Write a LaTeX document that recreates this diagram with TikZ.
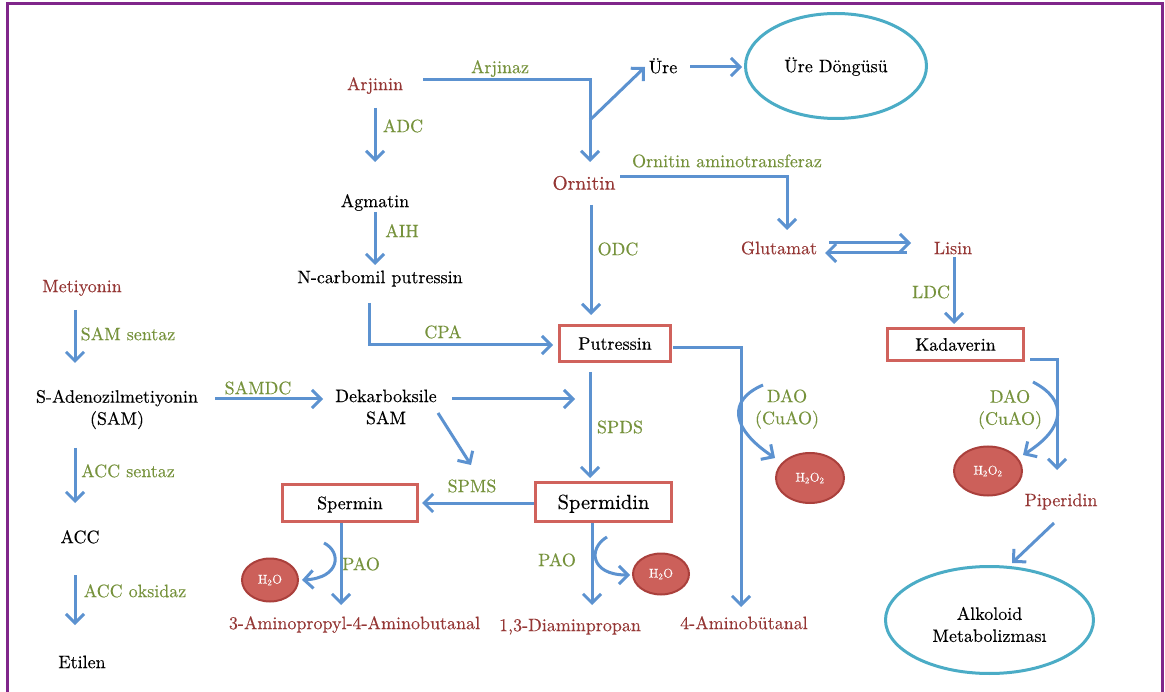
\documentclass[tikz,border=0pt]{standalone}
\usepackage{fontspec}
\setmainfont{lmroman10-regular.otf}[FakeBold=0.3]
\usetikzlibrary{arrows.meta,shapes.geometric}
\definecolor{molred}{RGB}{149,55,53}
\definecolor{enzgreen}{RGB}{118,146,60}
\definecolor{arrblue}{RGB}{92,146,208}
\definecolor{boxred}{RGB}{208,98,92}
\definecolor{cycblue}{RGB}{75,172,198}
\definecolor{dropfill}{RGB}{204,96,90}
\definecolor{dropedge}{RGB}{170,64,60}
\definecolor{framepurple}{RGB}{128,38,138}
\begin{document}
\begin{tikzpicture}[x=1pt,y=-1pt,
  base/.style={inner sep=0pt, outer sep=0pt, font=\fontsize{18}{22}\selectfont},
  txt/.style={base, text height=12.3pt, text depth=0pt},
  mol/.style={txt, text=molred},
  enz/.style={txt, text=enzgreen},
  multi/.style={base, align=center},
  stage/.style={txt, draw=boxred, line width=3pt, fill=white},
  cyc/.style={txt, ellipse, draw=cycblue, line width=3pt},
  drop/.style={ellipse, inner sep=0pt, outer sep=0pt, draw=dropedge, fill=dropfill,
    line width=2pt, text=white, font=\fontsize{12.5}{14}\selectfont},
  arr/.style={draw=arrblue, line width=3pt, -{Straight Barb[length=9pt,width=18pt]}}
]
\useasboundingbox (0,0) rectangle (1165,692);

% page frame (open at the bottom)
\draw[framepurple, line width=3pt] (7,700) -- (7,4) -- (1162,4) -- (1162,700);

% ---- arginine / ornithine branch ----
\node[mol] (arj) at (375,84) {Arjinin};
\node[enz] (arjinaz) at (500,67) {Arjinaz};
\node[txt] (ure) at (663,67) {Üre};
\node[cyc, minimum width=181pt, minimum height=105pt] (uredong) at (836,66) {Üre Döngüsü};
\node[mol, font=\fontsize{19.5}{22}\selectfont, text height=13.3pt] (orn) at (584,183) {Ornitin};
\node[enz] (ornat) at (727,161) {Ornitin aminotransferaz};
\node[enz] (adc) at (403,126) {ADC};
\node[txt] (agm) at (375,201) {Agmatin};
\node[enz] (aih) at (402,231) {AIH};
\node[txt] (ncp) at (380,277) {N-carbomil putressin};
\node[enz] (cpa) at (443,332) {CPA};
\node[enz] (odc) at (618,249) {ODC};
\node[stage, minimum width=111pt, minimum height=36pt] (put) at (615,343.5) {Putressin};
\node[mol] (glu) at (779,248) {Glutamat};
\node[mol] (lis) at (953,248) {Lisin};
\node[enz] (ldc) at (931,292) {LDC};
\node[stage, minimum width=136pt, minimum height=32pt] (kad) at (955.5,344.5) {Kadaverin};
\node[multi, text=enzgreen] (dao1) at (787,409) {DAO\\(CuAO)};
\node[drop, minimum width=68pt, minimum height=50pt] (h2o2a) at (810,478) {H\textsubscript{2}O\textsubscript{2}};
\node[multi, text=enzgreen] (dao2) at (1010,409.5) {DAO\\(CuAO)};
\node[drop, minimum width=68pt, minimum height=49pt] (h2o2b) at (988,471) {H\textsubscript{2}O\textsubscript{2}};
\node[mol] (pip) at (1061,500) {Piperidin};
\node[ellipse, draw=cycblue, line width=3pt, inner sep=0pt, outer sep=0pt,
  minimum width=208pt, minimum height=107pt] (alk) at (989.5,620) {};
\node[multi] (alktext) at (989.5,624.5) {Alkoloid\\Metabolizması};
\node[mol] (amb) at (744,623) {4-Aminobütanal};

% ---- methionine branch ----
\node[mol] (met) at (82,286) {Metiyonin};
\node[enz] (samsentaz) at (128,334) {SAM sentaz};
\node[multi] (sam) at (117,409.5) {S-Adenozilmetiyonin\\(SAM)};
\node[enz] (accsentaz) at (128,471) {ACC sentaz};
\node[txt] (acc) at (80,537) {ACC};
\node[enz] (accoks) at (135,591) {ACC oksidaz};
\node[txt] (etilen) at (82,662) {Etilen};
\node[enz] (samdc) at (258,388) {SAMDC};
\node[multi] (dek) at (386,407) {Dekarboksile\\SAM};

% ---- polyamines ----
\node[enz] (spds) at (620,427) {SPDS};
\node[stage, font=\fontsize{20.5}{24}\selectfont, text height=14pt,
  minimum width=136pt, minimum height=39pt] (spd) at (603.5,502) {Spermidin};
\node[stage, minimum width=135pt, minimum height=37pt] (spm) at (350,503) {Spermin};
\node[enz] (spms) at (472,486) {SPMS};
\node[enz] (pao1) at (361,564) {PAO};
\node[drop, minimum width=56pt, minimum height=43pt] (h2oa) at (270,580) {H\textsubscript{2}O};
\node[mol] (apa) at (354.5,623) {3-Aminopropyl-4-Aminobutanal};
\node[enz] (pao2) at (557,560) {PAO};
\node[drop, minimum width=56pt, minimum height=41pt] (h2ob) at (661,574) {H\textsubscript{2}O};
\node[mol] (dap) at (570,625) {1,3-Diaminpropan};

% ---- connectors ----
% arginase: Arjinin -> Ornitin, urea split off the bend
\draw[arr] ([shift={(48,-4)}]arj.center) -| ([shift={(6,-21)}]orn.center);
\coordinate (br) at ([shift={(6,-63)}]orn.center);
\draw[arr] (br) -- ([shift={(-18,0)}]ure.center);
\draw[arr] ([shift={(27,0)}]ure.center) -- ([shift={(-94,1)}]uredong.center);
% ADC, AIH, CPA route to putrescine
\draw[arr] ([shift={(0,24)}]arj.center) -- ([shift={(0,-39)}]agm.center);
\draw[arr] ([shift={(0,11)}]agm.center) -- ([shift={(-5,-12)}]ncp.center);
\draw[arr] ([shift={(-11,26)}]ncp.center) |- ([shift={(-62,1.5)}]put.center);
% ODC
\draw[arr] ([shift={(7,22)}]orn.center) -- ([shift={(-24,-28.5)}]put.center);
% ornithine aminotransferase
\draw[arr] ([shift={(36,-6)}]orn.center) -| ([shift={(8,-18)}]glu.center);
% glutamate <-> lysine
\draw[arr] ([shift={(50,-5)}]glu.center) -- ([shift={(-42,-5)}]lis.center);
\draw[arr] ([shift={(-46,5)}]lis.center) -- ([shift={(46,5)}]glu.center);
% LDC
\draw[arr] ([shift={(1,9)}]lis.center) -- ([shift={(-1.5,-20.5)}]kad.center);
% putrescine oxidation (DAO)
\draw[arr] ([shift={(58,4.5)}]put.center) -| ([shift={(-3,-16)}]amb.center);
\draw[arr] ([shift={(-47,-93)}]h2o2a.center) .. controls (728,400) and (730,428) .. ([shift={(-35,-20)}]h2o2a.center);
% cadaverine oxidation (DAO)
\draw[arr] ([shift={(74.5,15.5)}]kad.center) -| ([shift={(-4,-30)}]pip.center);
\draw[arr] ([shift={(45,-89)}]h2o2b.center) .. controls (1068,400) and (1066,428) .. ([shift={(35,-16)}]h2o2b.center);
\draw[arr] ([shift={(-7,23)}]pip.center) -- ([shift={(22.5,-57)}]alk.center);
% methionine -> SAM -> ACC -> ethylene
\draw[arr] ([shift={(-7,24)}]met.center) -- ([shift={(-42,-46.5)}]sam.center);
\draw[arr] ([shift={(-42,38.5)}]sam.center) -- ([shift={(-5,-34)}]acc.center);
\draw[arr] ([shift={(-5,38)}]acc.center) -- ([shift={(-7,-37)}]etilen.center);
% SAMDC and aminopropyl donation
\draw[arr] ([shift={(98,-10.5)}]sam.center) -- ([shift={(-63,-8)}]dek.center);
\draw[arr] ([shift={(66,-8)}]dek.center) -- ([shift={(-40,55.5)}]put.center);
\draw[arr] ([shift={(52,6)}]dek.center) -- ([shift={(-132.5,-37)}]spd.center);
% SPDS, SPMS
\draw[arr] ([shift={(-25,28.5)}]put.center) -- ([shift={(-13.5,-24)}]spd.center);
\draw[arr] ([shift={(-70,1)}]spd.center) -- ([shift={(72,0)}]spm.center);
% polyamine oxidase on spermine
\draw[arr] ([shift={(-9,20)}]spm.center) -- ([shift={(-13.5,-18)}]apa.center);
\draw[arr] ([shift={(-26,40)}]spm.center) .. controls (342,552) and (340,578) .. ([shift={(32,0)}]h2oa.center);
% polyamine oxidase on spermidine
\draw[arr] ([shift={(-11.5,21)}]spd.center) -- ([shift={(22,-20)}]dap.center);
\draw[arr] ([shift={(3.5,35)}]spd.center) .. controls (588,548) and (590,575) .. ([shift={(-31,1)}]h2ob.center);
\end{tikzpicture}
\end{document}
